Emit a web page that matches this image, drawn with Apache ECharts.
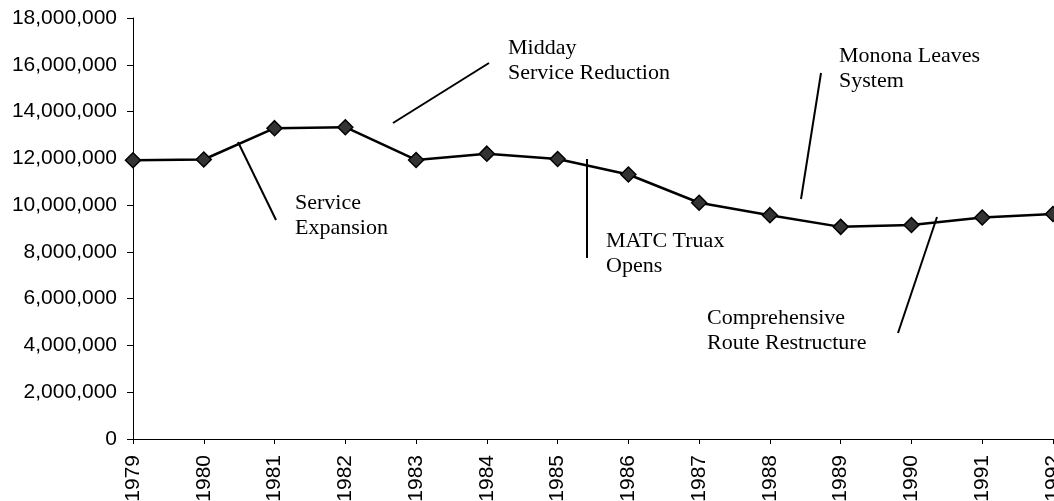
<!DOCTYPE html>
<html>
<head>
<meta charset="utf-8">
<script src="https://cdn.jsdelivr.net/npm/echarts@6/dist/echarts.min.js"></script>
<style>
  html, body { margin: 0; padding: 0; background: #fff; }
  #chart { width: 1054px; height: 501px; }
</style>
</head>
<body>
<div id="chart"></div>
<script>
var years = ['1979', '1980', '1981', '1982', '1983', '1984', '1985', '1986', '1987', '1988', '1989', '1990', '1991', '1992'];
var ridership = [11920000, 11950000, 13290000, 13330000, 11930000, 12200000, 11970000, 11310000, 10100000, 9570000, 9070000, 9150000, 9470000, 9620000];

var serif = '"Liberation Serif", "DejaVu Serif", serif';
var sans = '"Liberation Sans", Arial, sans-serif';

var note = function(text, x, y) {
	return {
		type: 'text', x: x, y: y,
		style: { text: text, fill: '#000', font: '22px ' + serif, lineHeight: 25, verticalAlign: 'top' }
	};
};
var stroke = function(x1, y1, x2, y2) {
	return {
		type: 'line',
		shape: { x1: x1, y1: y1, x2: x2, y2: y2 },
		style: { stroke: '#000', lineWidth: 2 }
	};
};

var chart = echarts.init(document.getElementById('chart'));
chart.setOption({
	animation: false,
	grid: { left: 133, right: 1, top: 18, bottom: 62, containLabel: false, outerBoundsMode: 'none' },
	xAxis: {
		type: 'category',
		data: years,
		boundaryGap: false,
		axisLine: { lineStyle: { color: '#000', width: 1 } },
		axisTick: { show: true, length: 5, lineStyle: { color: '#000' }, alignWithLabel: true },
		axisLabel: { rotate: 90, color: '#000', fontSize: 21, fontFamily: sans, margin: 16, interval: 0 }
	},
	yAxis: {
		type: 'value',
		min: 0,
		max: 18000000,
		interval: 2000000,
		splitLine: { show: false },
		axisLine: { show: true, lineStyle: { color: '#000', width: 1 } },
		axisTick: { show: true, length: 6, lineStyle: { color: '#000' } },
		axisLabel: {
			color: '#000', fontSize: 21, fontFamily: sans, margin: 16,
			formatter: function(v) { return v.toLocaleString('en-US'); }
		}
	},
	series: [{
		type: 'line',
		data: ridership,
		symbol: 'diamond',
		symbolSize: [15, 15],
		lineStyle: { color: '#000', width: 2.5 },
		itemStyle: { color: '#333', borderColor: '#000', borderWidth: 1.5 }
	}],
	graphic: [
		stroke(238, 142, 276, 220),
		note('Service\nExpansion', 295, 191),
		stroke(393, 123, 489, 63),
		note('Midday\nService Reduction', 508, 36),
		stroke(587, 159, 587, 258),
		note('MATC Truax\nOpens', 606, 229),
		stroke(821, 73, 801, 199),
		note('Monona Leaves\nSystem', 839, 44),
		stroke(937, 217, 898, 333),
		note('Comprehensive\nRoute Restructure', 707, 306)
	]
});
</script>
</body>
</html>
